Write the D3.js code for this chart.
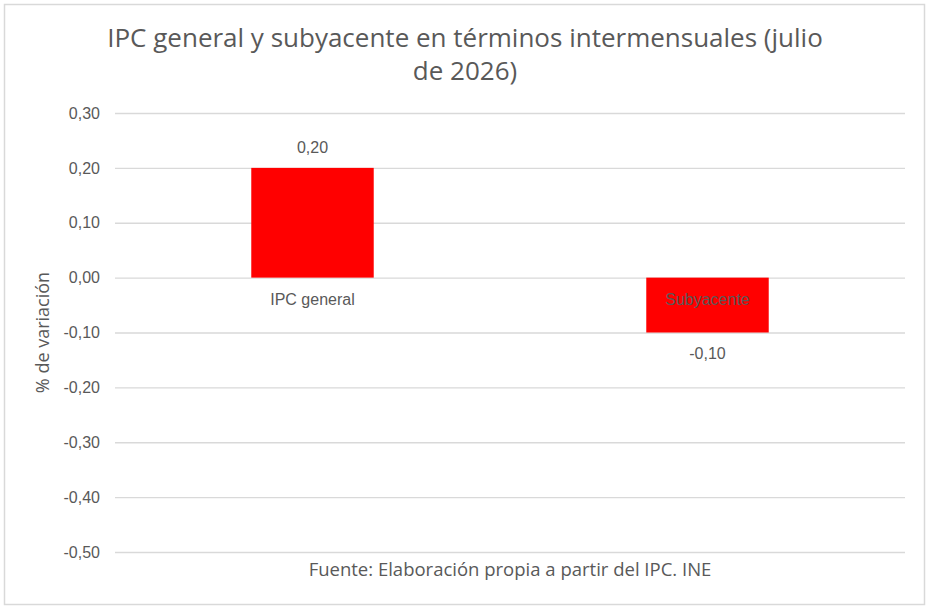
<!DOCTYPE html>
<html>
<head>
<meta charset="utf-8">
<script src="https://cdn.jsdelivr.net/npm/d3@7"></script>
<style>
  body { margin: 0; background: #fff; }
  text { font-family: "Liberation Sans", Arial, sans-serif; fill: #595959; }
  .wide { font-family: "Open Sans", "Liberation Sans", sans-serif; }
</style>
</head>
<body>
<svg id="chart" width="932" height="609"></svg>
<script>
// data
const categories = ["IPC general", "Subyacente"];
const values = [0.20, -0.10];
const yTicks = [0.30, 0.20, 0.10, 0.00, -0.10, -0.20, -0.30, -0.40, -0.50];
const titleLines = ["IPC general y subyacente en términos intermensuales (julio", "de 2026)"];
const yTitle = "% de variación";
const sourceNote = "Fuente: Elaboración propia a partir del IPC. INE";

const fmt = (v) => d3.format(".2f")(v).replace(".", ",").replace("−", "-");

const svg = d3.select("#chart");
const margin = { top: 113, right: 27, bottom: 57, left: 115 };
const width = 932, height = 609;
const innerW = width - margin.left - margin.right;
const innerH = height - margin.top - margin.bottom;

// chart frame
svg.append("rect")
    .attr("x", 4.5).attr("y", 4.5)
    .attr("width", 920).attr("height", 600)
    .attr("fill", "#fff")
    .attr("stroke", "#d9d9d9")
    .attr("stroke-width", 1.5);

const g = svg.append("g").attr("transform", `translate(${margin.left},${margin.top})`);

const x = d3.scaleBand().domain(categories).range([0, innerW]).paddingInner(0.69).paddingOuter(0.345);
const y = d3.scaleLinear().domain([-0.5, 0.3]).range([innerH, 0]);

// gridlines + tick labels
const yAxis = d3.axisLeft(y).tickValues(yTicks).tickSize(-innerW).tickFormat(fmt).tickPadding(15);
const ya = g.append("g").call(yAxis);
ya.select(".domain").remove();
ya.selectAll(".tick line").attr("stroke", "#d9d9d9").attr("stroke-width", 1.3);
ya.selectAll(".tick text").style("font-size", "16px").attr("fill", "#595959");

// bars
g.selectAll(".bar").data(values).enter().append("rect")
    .attr("class", "bar")
    .attr("x", (d, i) => x(categories[i]))
    .attr("width", x.bandwidth())
    .attr("y", (d) => y(Math.max(0, d)))
    .attr("height", (d) => Math.abs(y(d) - y(0)))
    .attr("fill", "#ff0000");

// value labels
g.selectAll(".val").data(values).enter().append("text")
    .attr("class", "val")
    .attr("x", (d, i) => x(categories[i]) + x.bandwidth() / 2)
    .attr("y", (d) => d >= 0 ? y(d) - 15 : y(d) + 26)
    .attr("text-anchor", "middle")
    .style("font-size", "16px")
    .text(fmt);

// category labels just under the zero line
g.selectAll(".cat").data(categories).enter().append("text")
    .attr("class", "cat")
    .attr("x", (d) => x(d) + x.bandwidth() / 2)
    .attr("y", y(0) + 27)
    .attr("text-anchor", "middle")
    .style("font-size", "16px")
    .text((d) => d);

// title
svg.append("text")
    .attr("class", "wide")
    .attr("text-anchor", "middle")
    .style("font-size", "26px")
    .selectAll("tspan").data(titleLines).enter().append("tspan")
    .attr("x", 465)
    .attr("y", (d, i) => 47 + i * 33)
    .text((d) => d);

// y axis title
svg.append("text")
    .attr("class", "wide")
    .attr("transform", `translate(49,${margin.top + innerH / 2}) rotate(-90)`)
    .attr("text-anchor", "middle")
    .style("font-size", "18px")
    .text(yTitle);

// source note
svg.append("text")
    .attr("class", "wide")
    .attr("x", margin.left + innerW / 2)
    .attr("y", 576)
    .attr("text-anchor", "middle")
    .style("font-size", "18.5px")
    .text(sourceNote);
</script>
</body>
</html>
